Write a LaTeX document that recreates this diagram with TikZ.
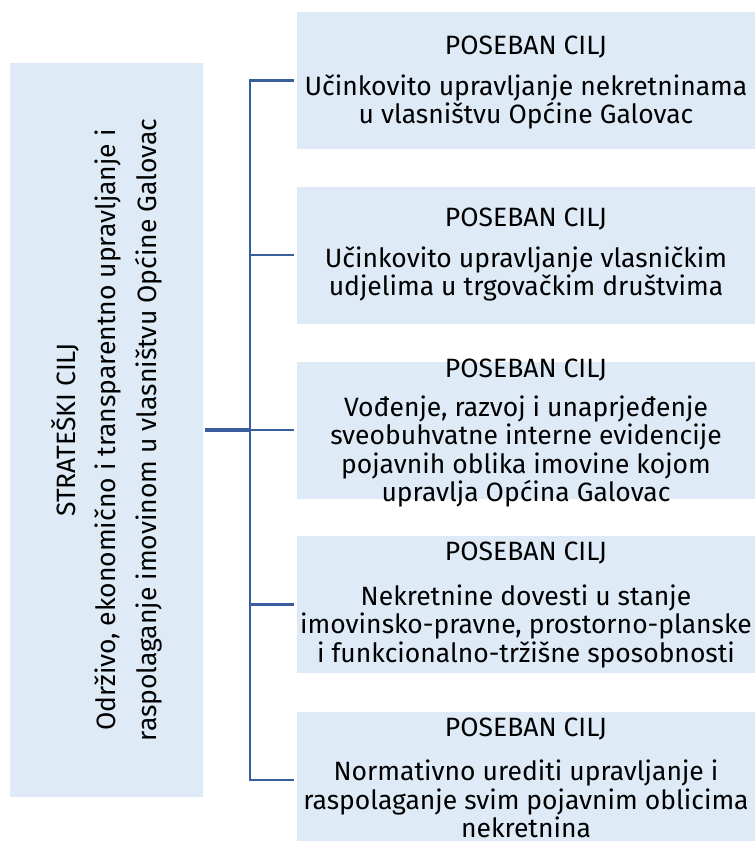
\documentclass[tikz,border=0pt]{standalone}
\usepackage{fontspec}
\setmainfont{Fira Sans}
\definecolor{boxfill}{HTML}{DEEAF6}
\definecolor{linkblue}{HTML}{3A5DA0}
\begin{document}
\begin{tikzpicture}[x=1pt,y=-1pt,
  goalbox/.style={fill=boxfill, draw=none, inner sep=0pt, minimum width=458pt, minimum height=137pt, anchor=west},
  goaltitle/.style={font=\fontsize{26.5}{28.5}\selectfont, inner sep=0pt},
  goalbody/.style={font=\fontsize{26.5}{28.5}\selectfont, align=center, inner sep=0pt},
  conn/.style={draw=linkblue, line width=2.8pt},
  stub/.style={draw=linkblue, line width=3.8pt}]
\useasboundingbox (0,0) rectangle (755,841);
\clip (0,0) rectangle (755,841);
% strategic goal
\node[fill=boxfill, draw=none, minimum width=193pt, minimum height=734pt, inner sep=0pt] (sc) at (106.5,430) {};
\node[rotate=90, align=center, inner sep=0pt, font=\fontsize{26.5}{40.5}\selectfont] (sctext) at (106.5,430)
  {STRATEŠKI CILJ\\Održivo, ekonomično i transparentno upravljanje i\\raspolaganje imovinom u vlasništvu Općine Galovac};
% specific goals
\node[goalbox] (g1) at (297,80.5) {};
\node[goalbox] (g2) at (297,255) {};
\node[goalbox] (g3) at (297,430) {};
\node[goalbox] (g4) at (297,604.5) {};
\node[goalbox] (g5) at (297,780) {};
\node[goaltitle] (t1) at (526,47) {POSEBAN CILJ};
\node[goalbody] (b1) at (526,102) {Učinkovito upravljanje nekretninama\\u vlasništvu Općine Galovac};
\node[goaltitle] (t2) at (526,219) {POSEBAN CILJ};
\node[goalbody] (b2) at (526,274) {Učinkovito upravljanje vlasničkim\\udjelima u trgovačkim društvima};
\node[goaltitle] (t3) at (526,370) {POSEBAN CILJ};
\node[goalbody] (b3) at (526,451.5) {Vođenje, razvoj i unaprjeđenje\\sveobuhvatne interne evidencije\\pojavnih oblika imovine kojom\\upravlja Općina Galovac};
\node[goaltitle] (t4) at (526,553) {POSEBAN CILJ};
\node[goalbody] (b4) at (526,626) {Nekretnine dovesti u stanje\\imovinsko-pravne, prostorno-planske\\i funkcionalno-tržišne sposobnosti};
\node[goaltitle] (t5) at (526,729) {POSEBAN CILJ};
\node[goalbody] (b5) at (526,799) {Normativno urediti upravljanje i\\raspolaganje svim pojavnim oblicima\\nekretnina};
% connectors
\coordinate (hub) at (250,430);
\draw[stub] ([xshift=2pt]sc.east) -- (hub);
\foreach \i in {1,...,5}
  \draw[conn] (hub) |- ([xshift=-3pt]g\i.west);
\end{tikzpicture}
\end{document}
